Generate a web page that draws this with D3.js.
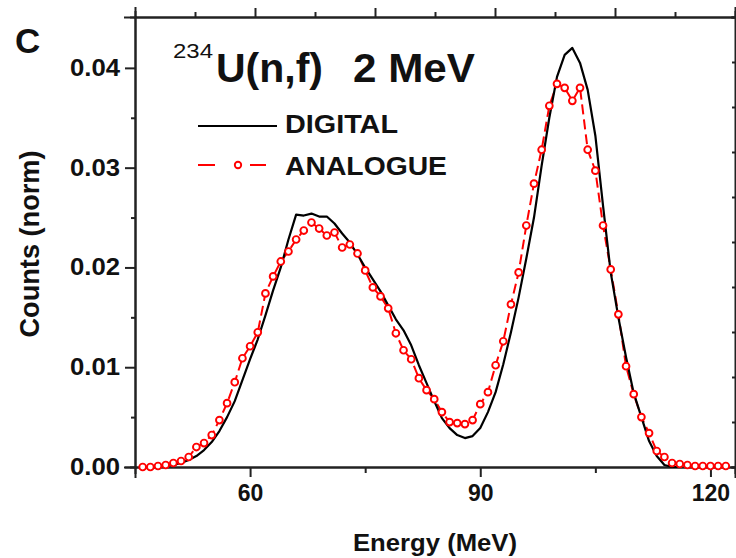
<!DOCTYPE html>
<html>
<head>
<meta charset="utf-8">
<script src="https://cdn.jsdelivr.net/npm/d3@7"></script>
<style>
body { margin: 0; background: white; }
text { font-family: "Liberation Sans", Arial, sans-serif; fill: #111; }
.axis path, .axis line { stroke: #222; stroke-width: 2; }
.axis text { font-size: 23px; font-weight: bold; }
</style>
</head>
<body>
<svg id="chart" width="736" height="558"></svg>
<script>
// energy grid (MeV) and normalised counts
var digitalEnergy = [48,49,50,51,52,53,54,55,56,57,58,59,60,61,62,63,64,65,66,67,68,69,70,71,72,73,74,75,76,77,78,79,80,81,82,83,84,85,86,87,88,89,90,91,92,93,94,95,96,97,98,99,100,101,102,103,104,105,106,107,108,109,110,111,112,113,114,115,116];
var digitalCounts = [0.0000,0.0001,0.0002,0.0004,0.0007,0.0011,0.0017,0.0025,0.0036,0.0050,0.0066,0.0087,0.0108,0.0128,0.0152,0.0177,0.0200,0.0228,0.0253,0.0252,0.0254,0.0251,0.0251,0.0244,0.0234,0.0225,0.0213,0.0200,0.0188,0.0176,0.0162,0.0148,0.0137,0.0122,0.0102,0.0084,0.0066,0.0049,0.0039,0.0032,0.0029,0.0031,0.0039,0.0055,0.0075,0.0103,0.0135,0.0170,0.0209,0.0250,0.0302,0.0350,0.0391,0.0413,0.0420,0.0405,0.0378,0.0332,0.0262,0.0195,0.0150,0.0110,0.0074,0.0050,0.0026,0.0011,0.0002,0.0000,0.0000];

var analogueEnergy = [46,47,48,49,50,51,52,53,54,55,56,57,58,59,60,61,62,63,64,65,66,67,68,69,70,71,72,73,74,75,76,77,78,79,80,81,82,83,84,85,86,87,88,89,90,91,92,93,94,95,96,97,98,99,100,101,102,103,104,105,106,107,108,109,110,111,112,113,114,115,116,117,118,119,120,121,122];
var analogueCounts = [0.0000,0.0000,0.0001,0.0002,0.0004,0.0006,0.0010,0.0020,0.0024,0.0032,0.0047,0.0064,0.0085,0.0109,0.0121,0.0135,0.0174,0.0191,0.0206,0.0216,0.0228,0.0237,0.0245,0.0239,0.0232,0.0235,0.0220,0.0223,0.0214,0.0197,0.0180,0.0171,0.0159,0.0134,0.0117,0.0108,0.0089,0.0077,0.0068,0.0055,0.0045,0.0044,0.0043,0.0047,0.0063,0.0075,0.0102,0.0126,0.0163,0.0195,0.0242,0.0284,0.0318,0.0362,0.0384,0.0380,0.0367,0.0380,0.0318,0.0297,0.0242,0.0198,0.0153,0.0101,0.0073,0.0050,0.0034,0.0016,0.0010,0.0004,0.0003,0.0002,0.0001,0.0001,0.0001,0.0001,0.0001];

var xTicks = [60, 90, 120];
var xMinor = [75, 105];
var yTicks = [0, 0.01, 0.02, 0.03, 0.04];
var yMinor = [0.005, 0.015, 0.025, 0.035];

var svg = d3.select("#chart");
var m = {left: 135, right: 735, top: 17, bottom: 467};

var x = d3.scaleLinear().domain([45, 123.2]).range([m.left, m.right]);
var y = d3.scaleLinear().domain([0, 0.0451]).range([m.bottom, m.top]);
// frame axes (top/right carry unlabelled ticks of their own)
var xTop = d3.scaleLinear().domain([0, 10]).range([m.left, m.right]);
var yRight = d3.scaleLinear().domain([0, 10]).range([m.bottom, m.top]);

var digital = digitalEnergy.map(function(e, i){ return {e: e, v: digitalCounts[i]}; });
var analogue = analogueEnergy.map(function(e, i){ return {e: e, v: analogueCounts[i]}; });

// top & right frame
svg.append("g").attr("class", "axis").attr("transform", "translate(0," + m.top + ")")
  .call(d3.axisTop(xTop).tickValues([2,4,6,8]).tickSize(9).tickFormat(""));
svg.append("g").attr("class", "axis").attr("transform", "translate(0," + m.top + ")")
  .call(d3.axisTop(xTop).tickValues([1,3,5,7,9]).tickSize(5).tickFormat(""));
svg.append("g").attr("class", "axis").attr("transform", "translate(" + m.right + ",0)")
  .call(d3.axisLeft(yRight).ticks(10).tickSize(3).tickFormat(""));

// bottom axis
svg.append("g").attr("class", "axis").attr("transform", "translate(0," + m.bottom + ")")
  .call(d3.axisBottom(x).tickValues(xMinor).tickSize(6).tickFormat(""));
var gx = svg.append("g").attr("class", "axis").attr("transform", "translate(0," + m.bottom + ")")
  .call(d3.axisBottom(x).tickValues(xTicks).tickSize(10).tickPadding(8).tickFormat(d3.format("d")));
gx.selectAll("text").attr("textLength", function(d){ return String(d).length * 12.8; })
  .attr("lengthAdjust", "spacingAndGlyphs");

// left axis
svg.append("g").attr("class", "axis").attr("transform", "translate(" + m.left + ",0)")
  .call(d3.axisLeft(y).tickValues(yMinor).tickSize(4).tickFormat(""));
var gy = svg.append("g").attr("class", "axis").attr("transform", "translate(" + m.left + ",0)")
  .call(d3.axisLeft(y).tickValues(yTicks).tickSize(10).tickPadding(5).tickFormat(d3.format(".2f")));
gy.selectAll("text").attr("textLength", 50).attr("lengthAdjust", "spacingAndGlyphs");

svg.selectAll(".axis path").attr("stroke-linecap", "square");

var line = d3.line().x(function(d){ return x(d.e); }).y(function(d){ return y(d.v); });

svg.append("path").datum(analogue).attr("d", line)
  .attr("fill", "none").attr("stroke", "#ff0000").attr("stroke-width", 2)
  .attr("stroke-dasharray", "10,5");
svg.append("path").datum(digital).attr("d", line)
  .attr("fill", "none").attr("stroke", "#000").attr("stroke-width", 2.2)
  .attr("stroke-linejoin", "round");
svg.selectAll("circle.an").data(analogue).enter().append("circle")
  .attr("class", "an")
  .attr("cx", function(d){ return x(d.e); }).attr("cy", function(d){ return y(d.v); })
  .attr("r", 3.4).attr("fill", "white").attr("stroke", "#ff0000").attr("stroke-width", 1.9);

// axis titles
svg.append("text").attr("x", 435).attr("y", 551).attr("text-anchor", "middle")
  .attr("font-size", 24).attr("font-weight", "bold")
  .attr("textLength", 164).attr("lengthAdjust", "spacingAndGlyphs").text("Energy (MeV)");
svg.append("text").attr("transform", "translate(39,244) rotate(-90)").attr("text-anchor", "middle")
  .attr("font-size", 28).attr("font-weight", "bold")
  .attr("textLength", 187).attr("lengthAdjust", "spacingAndGlyphs").text("Counts (norm)");

// panel letter and title
svg.append("text").attr("x", 15).attr("y", 53).attr("font-size", 35).attr("font-weight", "bold").text("C");
svg.append("text").attr("x", 173).attr("y", 58).attr("font-size", 21)
  .attr("textLength", 40).attr("lengthAdjust", "spacingAndGlyphs").text("234");
svg.append("text").attr("x", 216).attr("y", 82).attr("font-size", 41).attr("font-weight", "bold")
  .attr("textLength", 107).attr("lengthAdjust", "spacingAndGlyphs").text("U(n,f)");
svg.append("text").attr("x", 353).attr("y", 82).attr("font-size", 41).attr("font-weight", "bold")
  .attr("textLength", 122).attr("lengthAdjust", "spacingAndGlyphs").text("2 MeV");

// legend
var lg = svg.append("g");
lg.append("line").attr("x1", 198).attr("x2", 277).attr("y1", 126).attr("y2", 126)
  .attr("stroke", "#000").attr("stroke-width", 2.2);
lg.append("text").attr("x", 285).attr("y", 133).attr("font-size", 25).attr("font-weight", "bold")
  .attr("textLength", 113).attr("lengthAdjust", "spacingAndGlyphs").text("DIGITAL");
lg.append("line").attr("x1", 198).attr("x2", 266).attr("y1", 165).attr("y2", 165)
  .attr("stroke", "#ff0000").attr("stroke-width", 2.2).attr("stroke-dasharray", "17,35,16");
lg.append("circle").attr("cx", 238).attr("cy", 165).attr("r", 3.2)
  .attr("fill", "white").attr("stroke", "#ff0000").attr("stroke-width", 1.9);
lg.append("text").attr("x", 285).attr("y", 175).attr("font-size", 26).attr("font-weight", "bold")
  .attr("textLength", 162).attr("lengthAdjust", "spacingAndGlyphs").text("ANALOGUE");
</script>
</body>
</html>
